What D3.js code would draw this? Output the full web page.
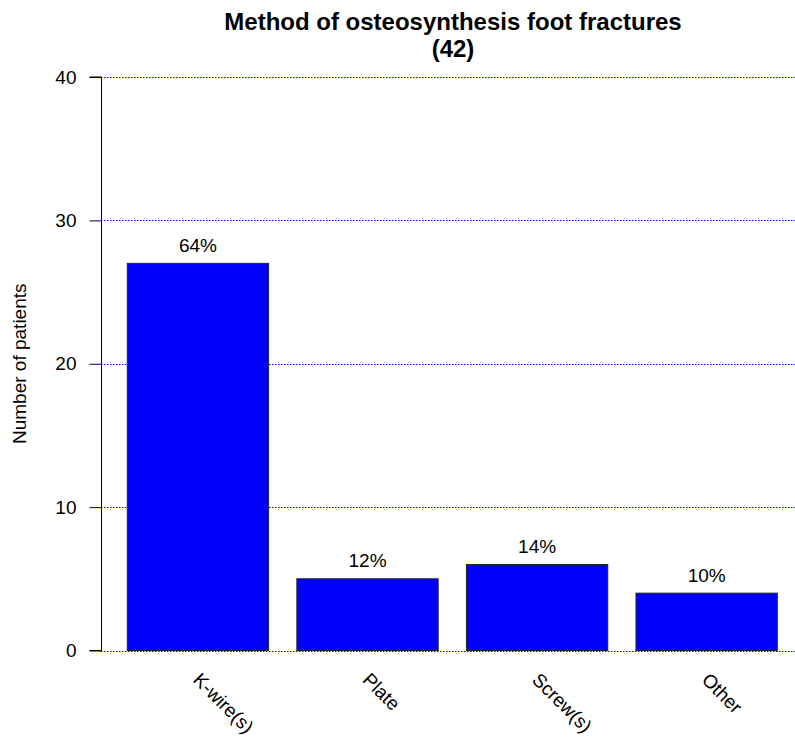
<!DOCTYPE html>
<html>
<head>
<meta charset="utf-8">
<script src="https://cdn.jsdelivr.net/npm/d3@7"></script>
<style>
  html, body { margin: 0; padding: 0; background: #fff; }
  svg { display: block; font-family: "Liberation Sans", Arial, Helvetica, sans-serif; }
</style>
</head>
<body>
<svg id="chart" width="795" height="742"></svg>
<script>
// ---- data ----
const categories = ["K-wire(s)", "Plate", "Screw(s)", "Other"];
const counts = [27, 5, 6, 4];
const percentLabels = ["64%", "12%", "14%", "10%"];
const yTicks = [0, 10, 20, 30, 40];
const titleLines = ["Method of osteosynthesis foot fractures", "(42)"];
const yAxisTitle = "Number of patients";

// ---- layout ----
const svg = d3.select("#chart");
const W = 795, H = 742;
const axisX = 101;

const x = d3.scaleBand()
  .domain(categories)
  .range([127.3, 777.3])
  .paddingInner(1 / 6)
  .paddingOuter(0);

const y = d3.scaleLinear()
  .domain([0, 40])
  .range([650.5, 77]);

// gridlines
svg.append("g")
  .selectAll("line")
  .data(yTicks)
  .join("line")
  .attr("x1", axisX)
  .attr("x2", W)
  .attr("y1", d => Math.round(y(d)) + 0.5)
  .attr("y2", d => Math.round(y(d)) + 0.5)
  .attr("stroke", "#0000ff")
  .attr("stroke-width", 1)
  .attr("stroke-dasharray", "1.5,1.5");

// bars
svg.append("g")
  .selectAll("rect")
  .data(categories)
  .join("rect")
  .attr("x", d => x(d))
  .attr("y", (d, i) => y(counts[i]))
  .attr("width", x.bandwidth())
  .attr("height", (d, i) => y(0) - y(counts[i]))
  .attr("fill", "#0000ff")
  .attr("stroke", "#222")
  .attr("stroke-width", 1);

// percent labels
svg.append("g")
  .selectAll("text")
  .data(categories)
  .join("text")
  .attr("x", d => x(d) + x.bandwidth() / 2)
  .attr("y", (d, i) => y(counts[i]) - 11.5)
  .attr("text-anchor", "middle")
  .attr("font-size", 19)
  .attr("fill", "#000")
  .text((d, i) => percentLabels[i]);

// y axis
const yAxis = d3.axisLeft(y)
  .tickValues(yTicks)
  .tickSize(12)
  .tickPadding(13)
  .tickFormat(d3.format("d"));
const gy = svg.append("g")
  .attr("transform", `translate(${axisX + 0.5},0)`)
  .call(yAxis);
gy.select(".domain").attr("d", `M-12,${y(40)}H0V${y(0)}H-12`).attr("stroke", "#000");
gy.selectAll(".tick line").attr("stroke", "#000");
gy.selectAll(".tick text")
  .attr("font-size", 19)
  .attr("font-family", "Liberation Sans, Arial, sans-serif")
  .attr("fill", "#000");

// x labels rotated
svg.append("g")
  .selectAll("text")
  .data(categories)
  .join("text")
  .attr("transform", d => `translate(${x(d) + x.bandwidth() / 2 - 6},681) rotate(45)`)
  .attr("text-anchor", "start")
  .attr("font-size", 19)
  .attr("fill", "#000")
  .text(d => d);

// y axis title
svg.append("text")
  .attr("transform", `translate(26,${(y(0) + y(40)) / 2}) rotate(-90)`)
  .attr("text-anchor", "middle")
  .attr("font-size", 19)
  .attr("fill", "#000")
  .text(yAxisTitle);

// title
svg.append("g")
  .selectAll("text")
  .data(titleLines)
  .join("text")
  .attr("x", 453)
  .attr("y", (d, i) => 30 + i * 27)
  .attr("text-anchor", "middle")
  .attr("font-size", 24)
  .attr("font-weight", "bold")
  .attr("fill", "#000")
  .text(d => d);
</script>
</body>
</html>
